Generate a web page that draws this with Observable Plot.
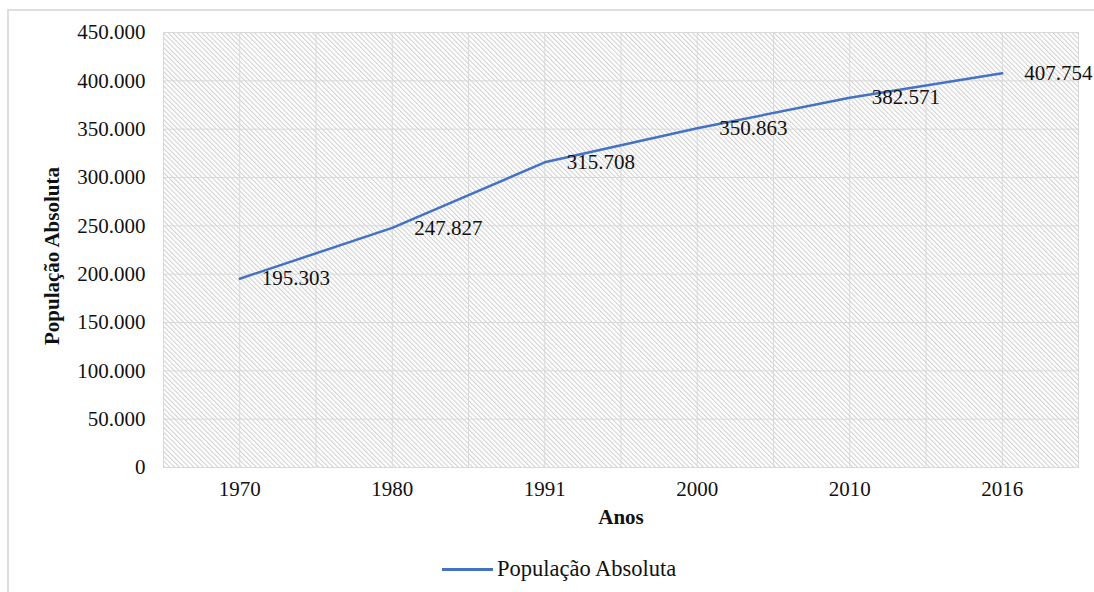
<!DOCTYPE html>
<html>
<head>
<meta charset="utf-8">
<script src="https://cdn.jsdelivr.net/npm/d3@7"></script>
<script src="https://cdn.jsdelivr.net/npm/@observablehq/plot@0.6"></script>
<style>
  html, body { margin: 0; padding: 0; background: #fff; overflow: hidden; width: 1094px; height: 592px; }
  #frame { position: absolute; left: 7px; top: 9px; width: 2000px; height: 2000px; border: 2px solid #dedede; box-sizing: border-box; }
  #chart { position: absolute; left: 0; top: 0; }
  #legend { position: absolute; left: 442px; top: 556px; height: 26px; display: flex; align-items: center;
            font-family: "Liberation Serif", "Times New Roman", serif; font-size: 22.5px; color: #111; }
  #legend .swatch { width: 51px; height: 3px; background: #4472C4; margin-right: 4px; }
</style>
</head>
<body>
<div id="frame"></div>
<div id="chart"></div>
<div id="legend"><span class="swatch"></span><span>População Absoluta</span></div>
<script>
// Census years and absolute population
const years = ["1970", "1980", "1991", "2000", "2010", "2016"];
const population = [195303, 247827, 315708, 350863, 382571, 407754];
const yTicks = [0, 50000, 100000, 150000, 200000, 250000, 300000, 350000, 400000, 450000];
const xTitle = "Anos";
const yTitle = "População Absoluta";

const locale = d3.formatLocale({decimal: ",", thousands: ".", grouping: [3], currency: ["R$", ""]});
const fmt = locale.format(",");

const rows = years.map((year, i) => ({i, year, value: population[i]}));
// vertical grid every half category: band edges and band centres
const xGrid = d3.range(0, 2 * years.length + 1).map(k => k / 2 - 0.5);

const lineColor = "#4472C4";
const gridColor = "#d9d9d9";

const chart = Plot.plot({
  width: 1094,
  height: 540,
  marginTop: 32,
  marginBottom: 73,
  marginLeft: 163,
  marginRight: 16,
  style: {fontFamily: "Liberation Serif, serif", fontSize: "21px", color: "#111", background: "transparent"},
  x: {type: "linear", domain: [-0.5, years.length - 0.5], axis: null},
  y: {domain: [0, 450000], axis: null},
  marks: [
    Plot.frame({fill: "url(#hatch)", stroke: null}),
    Plot.ruleY(yTicks, {stroke: gridColor, strokeWidth: 1}),
    Plot.ruleX(xGrid, {stroke: gridColor, strokeWidth: 1}),
    Plot.frame({stroke: gridColor, strokeWidth: 1}),
    // y tick labels
    Plot.text(yTicks, {y: d => d, text: d => fmt(d), frameAnchor: "left", dx: -18, textAnchor: "end", lineAnchor: "middle", fill: "#111"}),
    // x tick labels
    Plot.text(rows, {x: "i", text: "year", frameAnchor: "bottom", dy: 22, textAnchor: "middle", lineAnchor: "middle", fill: "#111"}),
    // axis titles
    Plot.text([xTitle], {frameAnchor: "bottom", dy: 50, textAnchor: "middle", lineAnchor: "middle", fontWeight: "bold", fill: "#111"}),
    Plot.text([yTitle], {frameAnchor: "left", dx: -111, dy: 6, rotate: -90, textAnchor: "middle", lineAnchor: "middle", fontWeight: "bold", fill: "#111"}),
    Plot.line(rows, {x: "i", y: "value", stroke: lineColor, strokeWidth: 2.5}),
    Plot.text(rows, {x: "i", y: "value", text: d => fmt(d.value), dx: 22, textAnchor: "start", lineAnchor: "middle", fill: "#111"})
  ]
});

chart.insertAdjacentHTML("afterbegin",
  `<defs><pattern id="hatch" patternUnits="userSpaceOnUse" width="3.4" height="3.4" patternTransform="rotate(-45)">
     <rect width="3.4" height="3.4" fill="#ffffff"></rect>
     <line x1="0.5" y1="0" x2="0.5" y2="3.4" stroke="#cfcfcf" stroke-width="1"></line>
   </pattern></defs>`);

document.getElementById("chart").appendChild(chart);
</script>
</body>
</html>
